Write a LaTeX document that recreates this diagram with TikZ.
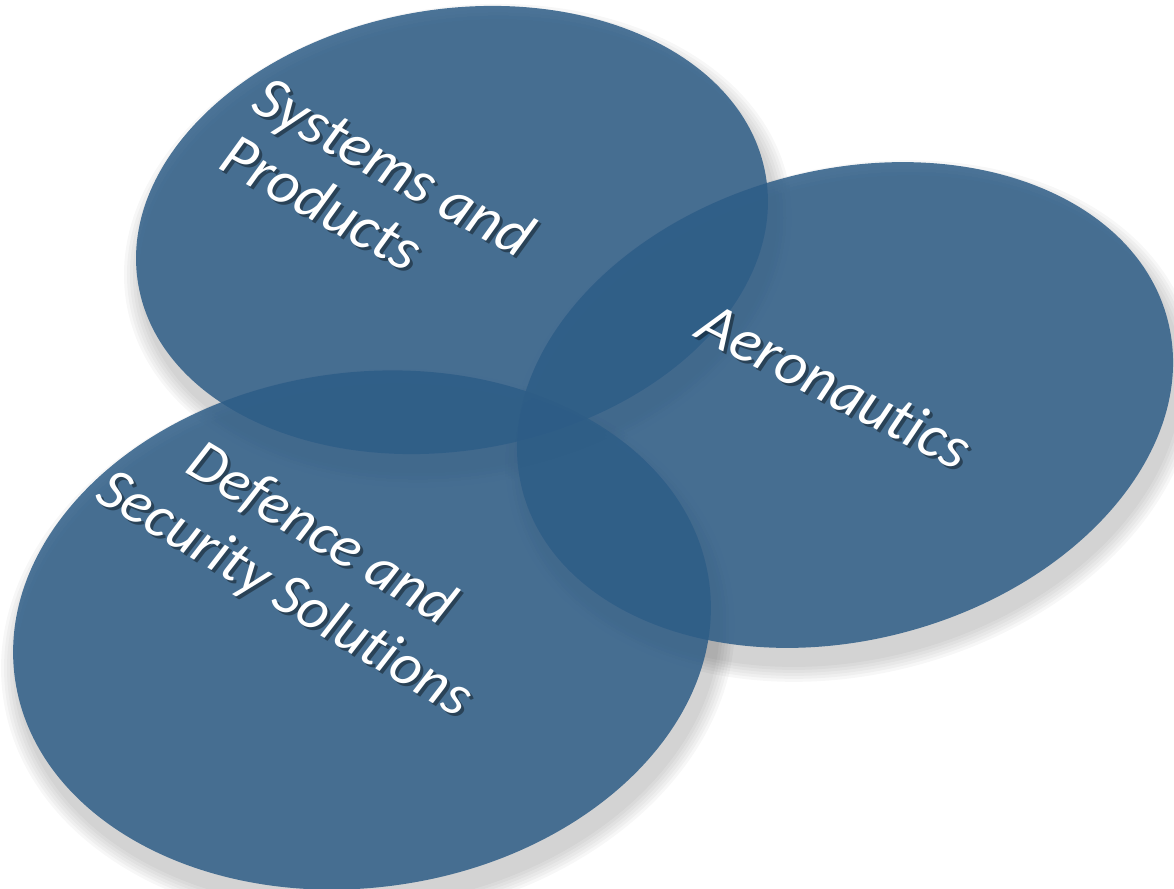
\documentclass[tikz,border=0pt]{standalone}
\usepackage{fontspec}
\setmainfont{Carlito}[Ligatures=NoCommon]
\usetikzlibrary{shapes.geometric}

\definecolor{vennblue}{RGB}{46,93,135}

\tikzset{
  blob/.style={ellipse, inner sep=0pt, outer sep=0pt, fill=vennblue, fill opacity=0.85},
  blobshade/.style={ellipse, inner sep=0pt, outer sep=0pt, fill=black, fill opacity=0.03},
  venntext/.style={font=\fontsize{35}{38}\selectfont\itshape, align=center, inner sep=0pt, text=white},
  venntextshade/.style={venntext, text=black, text opacity=0.4}
}

\begin{document}
\begin{tikzpicture}[x=0.02cm,y=-0.02cm]
\useasboundingbox (0,0) rectangle (1174,889);

\coordinate (S) at (452,230);
\coordinate (A) at (845,405);
\coordinate (D) at (362,630);

% soft shadows under the discs
\foreach \c/\r/\w/\h in {S/10/637/441, A/15/667/470, D/8/701/515}{
  \foreach \k in {1,...,6}
    \node[blobshade, rotate=\r, minimum width={(\w+6*\k)*0.02cm}, minimum height={(\h+6*\k)*0.02cm}]
      (shade-\c-\k) at ([shift={(6,16)}]\c) {};
}

% the three discs
\node[blob, rotate=10, minimum width=12.74cm, minimum height=8.82cm] (sys) at (S) {};
\node[blob, rotate=15, minimum width=13.35cm, minimum height=9.40cm] (aero) at (A) {};
\node[blob, rotate=8, minimum width=14.02cm, minimum height=10.30cm] (def) at (D) {};

% labels
\coordinate (St) at (378,195);
\coordinate (At) at (835,385);
\coordinate (Dt) at (302,565);

\node[venntextshade, rotate=-29, align=left] (sys-sh) at ([shift={(3,3)}]St) {Systems and\\Products};
\node[venntext, rotate=-29, align=left] (sys-txt) at (St) {Systems and\\Products};

\node[venntextshade, rotate=-27] (aero-sh) at ([shift={(3,3)}]At) {Aeronautics};
\node[venntext, rotate=-27] (aero-txt) at (At) {Aeronautics};

\node[venntextshade, rotate=-31, font=\fontsize{34}{40}\selectfont\itshape] (def-sh) at ([shift={(3,3)}]Dt) {Defence and\\Security Solutions};
\node[venntext, rotate=-31, font=\fontsize{34}{40}\selectfont\itshape] (def-txt) at (Dt) {Defence and\\Security Solutions};
\end{tikzpicture}
\end{document}
